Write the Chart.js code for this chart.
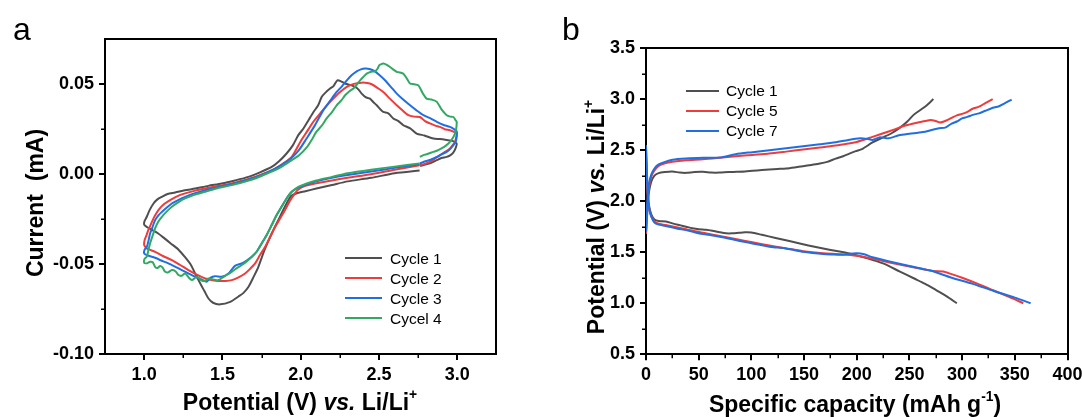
<!DOCTYPE html>
<html><head><meta charset="utf-8">
<script src="https://cdn.jsdelivr.net/npm/chart.js@4.4.1/dist/chart.umd.min.js"></script>
<style>
html,body{margin:0;padding:0;background:#fff;}
#wrap{position:relative;width:1082px;height:417px;overflow:hidden;font-family:'Liberation Sans',Arial,sans-serif;color:#000;}
canvas{position:absolute;top:0;}
.t{position:absolute;white-space:pre;line-height:1;}
.ttl{font-weight:bold;font-size:23px;transform:translate(-50%,-50%);}
.rot{transform:translate(-50%,-50%) rotate(-90deg);}
.ttl sup{font-size:0.6em;position:relative;top:-0.15em;vertical-align:super;line-height:0;}
.panel{font-size:32px;}
.leg{position:absolute;font-size:15.5px;line-height:1;white-space:pre;}
.sw{position:absolute;height:2px;}
</style></head>
<body>
<div id="wrap">
  <canvas id="cA" width="540" height="417" style="left:0;width:540px;height:417px"></canvas>
  <canvas id="cB" width="542" height="417" style="left:540px;width:542px;height:417px"></canvas>
  <div class="t panel" style="left:13px;top:13px">a</div>
  <div class="t panel" style="left:562px;top:13px">b</div>
  <div class="t ttl rot" style="left:35px;top:203px">Current  (mA)</div>
  <div class="t ttl" style="left:300px;top:402px">Potential (V) <i>vs.</i> Li/Li<sup>+</sup></div>
  <div class="t ttl rot" style="left:596px;top:217px">Potential (V) <i>vs.</i> Li/Li<sup>+</sup></div>
  <div class="t ttl" style="left:855px;top:404px">Specific capacity (mAh g<sup>-1</sup>)</div>
</div>
<script>
// ---------- Panel a: cyclic voltammetry, [potential V, current mA] ----------
const cvCycle1 = [[2.76,0.002],[2.6,0.0005],[2.45,-0.002],[2.3,-0.004],[2.2,-0.006],[2.1,-0.008],[2.03,-0.0095],[1.98,-0.0105],[1.94,-0.012],[1.9,-0.018],[1.86,-0.025],[1.815,-0.033],[1.77,-0.042],[1.73,-0.0515],[1.7,-0.057],[1.667,-0.0626],[1.635,-0.066],[1.603,-0.068],[1.55,-0.071],[1.486,-0.0724],[1.44,-0.0715],[1.41,-0.069],[1.385,-0.065],[1.358,-0.0607],[1.33,-0.056],[1.3,-0.0506],[1.26,-0.046],[1.22,-0.042],[1.17,-0.0385],[1.13,-0.0357],[1.09,-0.033],[1.05,-0.031],[1.02,-0.0295],[1.0,-0.028],
  [1.003,-0.026],[1.017,-0.0237],[1.035,-0.02],[1.06,-0.0163],[1.085,-0.014],[1.113,-0.0126],[1.15,-0.011],[1.198,-0.0102],[1.26,-0.009],[1.326,-0.008],[1.41,-0.0065],[1.496,-0.0052],[1.58,-0.0035],[1.666,-0.0015],[1.74,0.001],[1.815,0.004],[1.86,0.007],[1.91,0.0115],[1.95,0.016],[1.985,0.0217],[2.018,0.0254],[2.05,0.03],[2.082,0.0346],[2.11,0.038],[2.135,0.043],[2.16,0.0455],[2.188,0.0476],[2.21,0.049],[2.235,0.0522],[2.26,0.0515],[2.284,0.0504],[2.32,0.0495],[2.348,0.0485],[2.37,0.047],[2.39,0.0448],[2.415,0.0428],[2.443,0.042],[2.465,0.04],[2.486,0.0383],[2.51,0.036],[2.528,0.0346],[2.56,0.0338],[2.592,0.031],[2.625,0.0295],[2.656,0.0272],[2.7,0.0255],[2.741,0.0226],[2.79,0.0215],[2.848,0.0198],[2.89,0.0195],[2.933,0.019],[2.97,0.0185],[2.997,0.017],
  [2.99,0.0145],[2.975,0.012],[2.955,0.0105],[2.933,0.0096],[2.9,0.009],[2.87,0.0078],[2.826,0.006],[2.762,0.0046]];
const cvCycle2 = [[2.76,0.005],[2.6,0.0025],[2.45,0.0],[2.3,-0.002],[2.2,-0.0035],[2.1,-0.005],[2.03,-0.0065],[1.985,-0.0085],[1.964,-0.0107],[1.93,-0.015],[1.9,-0.02],[1.87,-0.0245],[1.837,-0.0293],[1.805,-0.035],[1.773,-0.0404],[1.74,-0.045],[1.709,-0.0496],[1.675,-0.0528],[1.645,-0.0552],[1.6,-0.0575],[1.56,-0.0589],[1.52,-0.0594],[1.475,-0.0594],[1.43,-0.0588],[1.39,-0.058],[1.34,-0.056],[1.283,-0.0533],[1.23,-0.0505],[1.177,-0.0478],[1.12,-0.0455],[1.07,-0.0432],[1.035,-0.042],[1.017,-0.0413],[1.0,-0.0394],
  [1.003,-0.0367],[1.015,-0.034],[1.027,-0.031],[1.045,-0.0275],[1.06,-0.0246],[1.08,-0.0215],[1.1,-0.019],[1.13,-0.0165],[1.166,-0.0144],[1.21,-0.0123],[1.262,-0.0107],[1.32,-0.0093],[1.39,-0.008],[1.47,-0.0066],[1.56,-0.0052],[1.64,-0.0033],[1.709,-0.0015],[1.77,0.0005],[1.837,0.0031],[1.89,0.006],[1.943,0.0096],[1.975,0.0143],[2.005,0.019],[2.039,0.0235],[2.08,0.029],[2.124,0.0337],[2.165,0.038],[2.209,0.042],[2.25,0.0455],[2.295,0.0485],[2.34,0.0502],[2.39,0.0509],[2.425,0.0507],[2.454,0.05],[2.49,0.048],[2.528,0.0457],[2.57,0.042],[2.614,0.0383],[2.65,0.0355],[2.688,0.0328],[2.725,0.032],[2.762,0.0318],[2.795,0.0295],[2.826,0.0282],[2.86,0.027],[2.89,0.0263],[2.92,0.025],[2.954,0.0244],[2.98,0.0235],[2.997,0.0226],
  [2.995,0.021],[2.986,0.018],[2.97,0.016],[2.954,0.0143],[2.925,0.0125],[2.89,0.0106],[2.86,0.0088],[2.826,0.0068],[2.795,0.0058],[2.762,0.005]];
const cvCycle3 = [[2.76,0.0055],[2.6,0.0035],[2.45,0.0015],[2.3,-0.0005],[2.2,-0.002],[2.1,-0.004],[2.03,-0.006],[1.985,-0.0075],[1.943,-0.0098],[1.91,-0.0135],[1.879,-0.018],[1.845,-0.023],[1.815,-0.0283],[1.785,-0.0335],[1.751,-0.0385],[1.72,-0.043],[1.688,-0.0459],[1.655,-0.048],[1.624,-0.0496],[1.58,-0.051],[1.539,-0.0552],[1.495,-0.057],[1.453,-0.0567],[1.425,-0.0575],[1.4,-0.0598],[1.365,-0.0585],[1.326,-0.057],[1.28,-0.055],[1.241,-0.0533],[1.2,-0.0515],[1.155,-0.0496],[1.11,-0.048],[1.07,-0.0465],[1.035,-0.0455],[1.017,-0.045],[1.0,-0.044],
  [1.003,-0.042],[1.017,-0.0404],[1.028,-0.037],[1.038,-0.033],[1.055,-0.029],[1.07,-0.0256],[1.09,-0.023],[1.113,-0.021],[1.145,-0.0185],[1.177,-0.0163],[1.22,-0.0143],[1.262,-0.0126],[1.32,-0.0107],[1.39,-0.0089],[1.47,-0.0072],[1.56,-0.0056],[1.64,-0.0037],[1.709,-0.0018],[1.77,0.0003],[1.837,0.0031],[1.89,0.0058],[1.943,0.0092],[1.99,0.0135],[2.039,0.02],[2.09,0.027],[2.145,0.0356],[2.19,0.041],[2.23,0.0457],[2.265,0.049],[2.295,0.0522],[2.325,0.055],[2.358,0.0572],[2.385,0.0583],[2.411,0.0587],[2.44,0.0585],[2.475,0.0572],[2.505,0.055],[2.539,0.0522],[2.575,0.0487],[2.614,0.0448],[2.655,0.0415],[2.699,0.0383],[2.74,0.0355],[2.784,0.0328],[2.83,0.031],[2.87,0.0291],[2.91,0.0275],[2.954,0.0263],[2.98,0.025],[2.997,0.0239],
  [2.997,0.0207],[2.99,0.018],[2.976,0.0161],[2.955,0.014],[2.933,0.0124],[2.9,0.011],[2.87,0.0096],[2.83,0.008],[2.784,0.0068],[2.762,0.006]];
const cvCycle4 = [[2.76,0.006],[2.6,0.0042],[2.45,0.0025],[2.3,0.0005],[2.2,-0.0015],[2.1,-0.0035],[2.03,-0.0055],[1.985,-0.007],[1.943,-0.0098],[1.91,-0.0135],[1.879,-0.018],[1.845,-0.023],[1.815,-0.0283],[1.785,-0.0335],[1.751,-0.0385],[1.72,-0.043],[1.688,-0.0459],[1.655,-0.0485],[1.624,-0.0505],[1.58,-0.053],[1.539,-0.0555],[1.5,-0.0575],[1.475,-0.0589],[1.44,-0.0585],[1.41,-0.058],[1.39,-0.0594],[1.365,-0.059],[1.337,-0.057],[1.305,-0.0589],[1.285,-0.0575],[1.262,-0.0552],[1.24,-0.0565],[1.22,-0.0561],[1.2,-0.054],[1.177,-0.0533],[1.155,-0.0545],[1.134,-0.0543],[1.118,-0.052],[1.102,-0.0511],[1.085,-0.0522],[1.07,-0.0515],[1.055,-0.049],[1.038,-0.0487],[1.02,-0.0495],[1.0,-0.0493],
  [1.003,-0.047],[1.017,-0.0459],[1.028,-0.042],[1.038,-0.0385],[1.055,-0.034],[1.07,-0.0302],[1.09,-0.0265],[1.113,-0.0237],[1.145,-0.0207],[1.177,-0.0181],[1.22,-0.0155],[1.262,-0.0135],[1.32,-0.0115],[1.39,-0.0098],[1.47,-0.0078],[1.56,-0.0061],[1.64,-0.0042],[1.709,-0.0024],[1.77,-0.0002],[1.837,0.0022],[1.89,0.0048],[1.943,0.0078],[1.99,0.0105],[2.04,0.015],[2.07,0.019],[2.1,0.0235],[2.135,0.027],[2.166,0.031],[2.2,0.0345],[2.23,0.0383],[2.26,0.041],[2.284,0.0439],[2.31,0.046],[2.337,0.0476],[2.36,0.05],[2.38,0.0522],[2.4,0.054],[2.422,0.0559],[2.45,0.057],[2.475,0.0572],[2.49,0.0585],[2.503,0.0606],[2.515,0.0612],[2.528,0.0615],[2.55,0.0608],[2.571,0.0596],[2.595,0.058],[2.614,0.0569],[2.635,0.0565],[2.656,0.0559],[2.68,0.053],[2.699,0.0504],[2.725,0.05],[2.752,0.0494],[2.78,0.045],[2.805,0.042],[2.835,0.0415],[2.87,0.0402],[2.9,0.036],[2.933,0.0328],[2.955,0.032],[2.976,0.0318],[2.99,0.03],[2.997,0.0291],
  [2.995,0.026],[2.99,0.0235],[2.975,0.0205],[2.954,0.018],[2.93,0.016],[2.9,0.0143],[2.87,0.013],[2.848,0.0124],[2.81,0.0112],[2.784,0.0106],[2.762,0.0096]];
const cvLabels = ['Cycle 1','Cycle 2','Cycle 3','Cycel 4'];
const cvColors = ['#4f4f4f','#ee3b3b','#1f6fe3','#33a862'];
const cvTicksX = [1.0,1.5,2.0,2.5,3.0];
const cvMinorX = [1.25,1.75,2.25,2.75];
const cvTicksY = [-0.10,-0.05,0.00,0.05];
const cvMinorY = [-0.075,-0.025,0.025];

// ---------- Panel b: charge/discharge, [capacity mAh/g, potential V] ----------
const gcd1Discharge = [[0,2.52],[1,2.25],[2,2.05],[3,1.95],[5,1.87],[8,1.82],[12,1.805],[19,1.8],[26,1.78],[32,1.765],[38,1.75],[44,1.735],[50,1.725],[57,1.72],[63,1.71],[70,1.695],[76,1.685],[82,1.685],[88,1.69],[94,1.695],[100,1.693],[110,1.67],[123,1.64],[136,1.61],[148,1.58],[160,1.553],[174,1.525],[185,1.505],[193,1.488],[210,1.44],[225,1.39],[241,1.31],[254,1.245],[265,1.19],[275,1.13],[285,1.07],[295,1.0]];
const gcd1Charge = [[0,1.68],[1,1.85],[2,2.0],[3,2.1],[5,2.19],[8,2.25],[12,2.275],[18,2.285],[25,2.29],[32,2.28],[38,2.277],[46,2.285],[54,2.287],[62,2.28],[70,2.28],[78,2.285],[86,2.287],[94,2.29],[101,2.297],[110,2.305],[117,2.31],[125,2.315],[133,2.32],[141,2.33],[149,2.342],[157,2.355],[165,2.368],[172,2.385],[180,2.417],[187,2.44],[193,2.466],[199,2.49],[205,2.51],[215,2.575],[225,2.625],[233,2.665],[241,2.72],[248,2.78],[254,2.845],[260,2.89],[266,2.935],[272.7,3.0]];
const gcd5Discharge = [[0,2.45],[1,2.15],[2,2.0],[3,1.92],[5,1.85],[8,1.8],[12,1.78],[22,1.76],[38,1.725],[54,1.69],[70,1.66],[85,1.63],[101,1.597],[117,1.565],[133,1.537],[149,1.51],[168,1.49],[185,1.48],[200,1.465],[215,1.435],[231,1.4],[250,1.36],[262,1.335],[272,1.315],[282,1.31],[290,1.285],[300,1.25],[315,1.19],[330,1.125],[345,1.06],[358,1.0]];
const gcd5Charge = [[0,1.68],[1,1.9],[2,2.05],[3,2.15],[5,2.24],[8,2.3],[12,2.345],[18,2.37],[25,2.385],[38,2.4],[54,2.41],[70,2.425],[85,2.44],[101,2.453],[117,2.466],[133,2.485],[149,2.505],[165,2.525],[180,2.545],[192,2.565],[200,2.58],[215,2.63],[231,2.685],[247,2.743],[258,2.77],[265,2.785],[270,2.795],[275,2.785],[279,2.77],[285,2.79],[290,2.815],[295,2.84],[300,2.855],[305,2.875],[310,2.905],[316,2.925],[322,2.96],[329,3.0]];
const gcd7Discharge = [[0,2.55],[1,2.2],[2,2.02],[3,1.93],[5,1.85],[8,1.79],[12,1.77],[22,1.749],[30,1.73],[38,1.716],[46,1.695],[54,1.677],[62,1.665],[70,1.651],[78,1.635],[85,1.619],[93,1.602],[101,1.586],[109,1.57],[117,1.553],[125,1.545],[133,1.537],[141,1.52],[149,1.504],[158,1.492],[168,1.482],[176,1.478],[185,1.475],[193,1.485],[200,1.49],[207,1.48],[215,1.45],[231,1.41],[250,1.365],[270,1.32],[290,1.25],[310,1.19],[330,1.12],[350,1.055],[365,1.0]];
const gcd7Charge = [[0,1.7],[1,1.95],[2,2.1],[3,2.18],[5,2.26],[8,2.32],[12,2.36],[18,2.385],[25,2.405],[38,2.417],[54,2.424],[70,2.427],[85,2.46],[101,2.48],[117,2.499],[133,2.518],[149,2.538],[165,2.557],[180,2.577],[192,2.6],[203,2.615],[210,2.61],[215,2.6],[222,2.625],[230,2.615],[240,2.645],[250,2.66],[258,2.67],[265,2.68],[272,2.7],[278,2.715],[284,2.72],[290,2.76],[295,2.78],[300,2.81],[305,2.825],[310,2.845],[316,2.86],[322,2.885],[328,2.91],[335,2.93],[340,2.955],[347,2.995]];
const gcdLabels = ['Cycle 1','Cycle 5','Cycle 7'];
const gcdColors = ['#4f4f4f','#ee3b3b','#1f6fe3'];
const gcdTicksX = [0,50,100,150,200,250,300,350,400];
const gcdMinorX = [25,75,125,175,225,275,325,375];
const gcdTicksY = [0.5,1.0,1.5,2.0,2.5,3.0,3.5];
const gcdMinorY = [0.75,1.25,1.75,2.25,2.75,3.25];

// ---------- helpers ----------
const toPts = arr => arr.map(p => ({x: p[0], y: p[1]}));
const FONT = "'Liberation Sans', Arial, sans-serif";

const framePlugin = {
  id: 'frameMinor',
  afterDraw(chart, args, opts) {
    const {ctx, chartArea: a} = chart;
    const xs = chart.scales.x, ys = chart.scales.y;
    ctx.save();
    ctx.strokeStyle = '#000';
    ctx.lineWidth = 2;
    ctx.beginPath();
    ctx.moveTo(a.left, Math.round(a.top));
    ctx.lineTo(Math.round(a.right), Math.round(a.top));
    ctx.lineTo(Math.round(a.right), a.bottom);
    ctx.stroke();
    ctx.lineWidth = 1.5;
    ctx.beginPath();
    (opts.xMinor || []).forEach(v => {
      const px = Math.round(xs.getPixelForValue(v)) + 0.25;
      ctx.moveTo(px, a.bottom); ctx.lineTo(px, a.bottom + 4);
    });
    (opts.yMinor || []).forEach(v => {
      const py = Math.round(ys.getPixelForValue(v)) + 0.25;
      ctx.moveTo(a.left, py); ctx.lineTo(a.left - 4, py);
    });
    ctx.stroke();
    ctx.restore();
  }
};

function axis(min, max, ticks, fmt, isX, size) {
  return {
    type: 'linear', min, max,
    border: {display: true, color: '#000', width: 2},
    grid: {display: true, drawOnChartArea: false, drawTicks: true, tickLength: 6, tickWidth: 2, tickColor: '#000', color: '#000', lineWidth: 2},
    ticks: {autoSkip: false, maxRotation: 0, minRotation: 0, color: '#000', padding: isX ? 4 : 5,
            font: {family: FONT, size: 18, weight: 'bold'}, callback: v => fmt(v)},
    afterBuildTicks: s => { s.ticks = ticks.map(v => ({value: v})); },
    afterFit: s => {
      if (isX) { s.height = size; s.paddingLeft = 0; s.paddingRight = 0; }
      else { s.width = size; s.paddingTop = 0; s.paddingBottom = 0; }
    }
  };
}

function ds(label, data, color, order) {
  return {label, data: toPts(data), showLine: true, borderColor: color, backgroundColor: color,
          borderWidth: 2, pointRadius: 0, pointHoverRadius: 0, tension: 0.25, fill: false, order};
}

// Panel a
new Chart(document.getElementById('cA'), {
  type: 'scatter',
  data: {datasets: [
    ds(cvLabels[0], cvCycle1, cvColors[0], 3),
    ds(cvLabels[1], cvCycle2, cvColors[1], 2),
    ds(cvLabels[2], cvCycle3, cvColors[2], 1),
    ds(cvLabels[3], cvCycle4, cvColors[3], 0)
  ]},
  options: {
    responsive: false, animation: false, devicePixelRatio: 1,
    layout: {padding: {left: 0, top: 39.3, right: 43.7, bottom: 0}},
    scales: {
      x: axis(0.75, 3.25, cvTicksX, v => v.toFixed(1), true, 63),
      y: axis(-0.10, 0.075, cvTicksY, v => v.toFixed(2), false, 105)
    },
    plugins: {legend: {display: false}, tooltip: {enabled: false},
              frameMinor: {xMinor: cvMinorX, yMinor: cvMinorY}}
  },
  plugins: [framePlugin]
});

// Panel b
new Chart(document.getElementById('cB'), {
  type: 'scatter',
  data: {datasets: [
    ds(gcdLabels[0], gcd1Discharge, gcdColors[0], 2),
    ds(gcdLabels[0], gcd1Charge, gcdColors[0], 2),
    ds(gcdLabels[1], gcd5Discharge, gcdColors[1], 1),
    ds(gcdLabels[1], gcd5Charge, gcdColors[1], 1),
    ds(gcdLabels[2], gcd7Discharge, gcdColors[2], 0),
    ds(gcdLabels[2], gcd7Charge, gcdColors[2], 0)
  ]},
  options: {
    responsive: false, animation: false, devicePixelRatio: 1,
    layout: {padding: {left: 0, top: 48, right: 14.5, bottom: 0}},
    scales: {
      x: axis(0, 400, gcdTicksX, v => String(v), true, 62.7),
      y: axis(0.5, 3.5, gcdTicksY, v => v.toFixed(1), false, 106)
    },
    plugins: {legend: {display: false}, tooltip: {enabled: false},
              frameMinor: {xMinor: gcdMinorX, yMinor: gcdMinorY}}
  },
  plugins: [framePlugin]
});

// Legends (HTML text)
function legend(x0, x1, xt, ys, labels, colors) {
  const wrap = document.getElementById('wrap');
  labels.forEach((lab, i) => {
    const sw = document.createElement('div');
    sw.className = 'sw';
    sw.style.left = x0 + 'px'; sw.style.width = (x1 - x0) + 'px';
    sw.style.top = (ys[i] - 1) + 'px'; sw.style.background = colors[i];
    wrap.appendChild(sw);
    const t = document.createElement('div');
    t.className = 'leg';
    t.style.left = xt + 'px'; t.style.top = (ys[i] - 7.75) + 'px';
    t.textContent = lab;
    wrap.appendChild(t);
  });
}
legend(345, 382, 390, [258.3, 278.3, 298.3, 318.3], cvLabels, cvColors);
legend(686, 719, 726, [91, 111, 130.5], gcdLabels, gcdColors);
</script>
</body></html>
